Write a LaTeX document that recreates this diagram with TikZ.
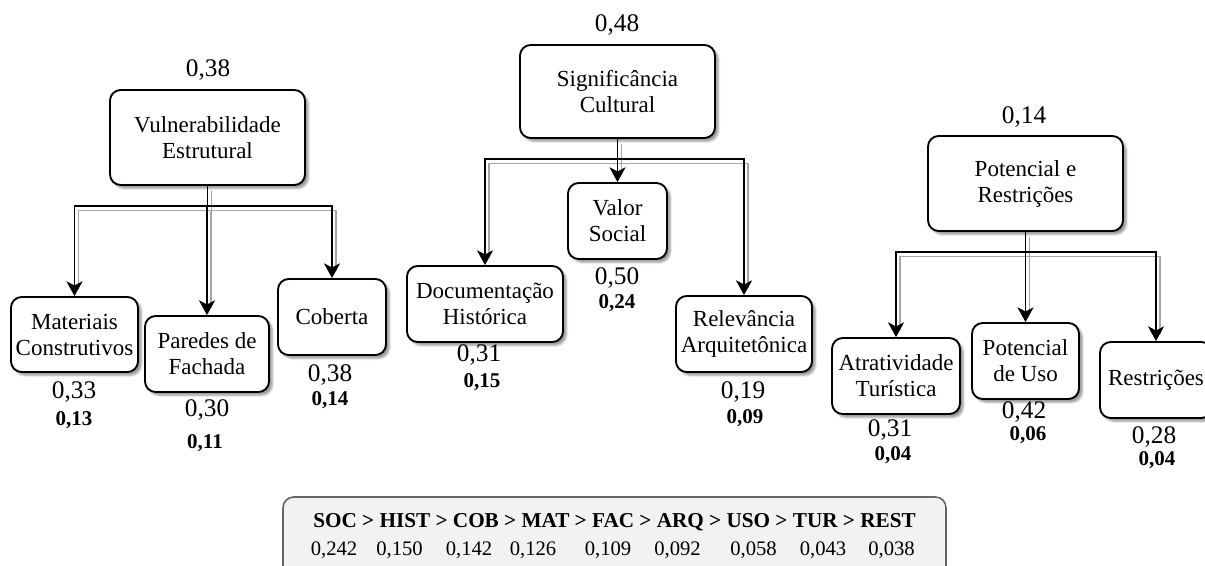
\documentclass[tikz,border=0pt]{standalone}
\usepackage{fontspec}
\setmainfont{Liberation Serif}
\usetikzlibrary{arrows.meta,shadows.blur,backgrounds}

\begin{document}
\begin{tikzpicture}[x=0.75pt,y=-0.75pt,
  box/.style={draw, line width=1.4pt, rounded corners=8pt, fill=white, align=center,
    font=\fontsize{17.25}{19.5}\selectfont, inner sep=0pt,
    blur shadow={shadow xshift=2.5pt, shadow yshift=-2.5pt, shadow blur radius=1.5pt, shadow opacity=40}},
  wt/.style={font=\fontsize{19}{22}\selectfont, inner sep=0pt},
  gw/.style={font=\bfseries\fontsize{15.75}{18}\selectfont, inner sep=0pt},
  link/.style={line width=1.3pt, -{Stealth[length=11pt,width=12pt,inset=3pt]}},
  linkshadow/.style={line width=1.3pt, black!35, transform canvas={shift={(3pt,-3.5pt)}}, shorten >=9pt},
  sumbox/.style={draw=black!60, fill=black!5, line width=1.2pt, rounded corners=8pt, inner sep=0pt},
  order/.style={font=\bfseries\fontsize{15.9}{18}\selectfont, inner sep=0pt},
  score/.style={font=\fontsize{15.5}{18}\selectfont, inner sep=0pt}
]
\useasboundingbox (0,0) rectangle (1205,565);

% Criterion: structural vulnerability
\node[box, minimum width=146.25pt, minimum height=71.25pt] (V) at (207.5,137.5) {Vulnerabilidade\\Estrutural};
\node[box, minimum width=95.25pt, minimum height=56.25pt] (M) at (74.5,334.5) {Materiais\\Construtivos};
\node[box, minimum width=93pt, minimum height=57pt] (P) at (207,354) {Paredes de\\Fachada};
\node[box, minimum width=81pt, minimum height=57pt] (C) at (332,317) {Coberta};

% Criterion: cultural significance
\node[box, minimum width=146.25pt, minimum height=69.75pt] (S) at (617.5,91.5) {Significância\\Cultural};
\node[box, minimum width=117pt, minimum height=57pt] (D) at (485,304) {Documentação\\Histórica};
\node[box, minimum width=74.25pt, minimum height=57pt] (VS) at (617.5,221) {Valor\\Social};
\node[box, minimum width=102pt, minimum height=57pt] (R) at (744,334) {Relevância\\Arquitetônica};

% Criterion: potential and restrictions
\node[box, minimum width=146.25pt, minimum height=71.25pt] (PR) at (1025.5,183.5) {Potencial e\\Restrições};
\node[box, minimum width=96pt, minimum height=57pt] (A) at (896,376) {Atratividade\\Turística};
\node[box, minimum width=80.25pt, minimum height=57pt] (PU) at (1025.5,361) {Potencial\\de Uso};
\node[box, minimum width=84pt, minimum height=57pt] (RE) at (1156,380) {Restrições};

% Connectors with their offset shadows
\begin{scope}[on background layer]
\foreach \p/\c in {V/M,V/P,V/C,S/D,S/VS,S/R,PR/A,PR/PU,PR/RE}{
  \draw[linkshadow] (\p.south) -- ++(0,20) -| (\c.north);
}
\end{scope}
\foreach \p/\c in {V/M,V/P,V/C,S/D,S/VS,S/R,PR/A,PR/PU,PR/RE}{
  \draw[link] (\p.south) -- ++(0,20) -| (\c.north);
}

% Local weights (regular) and global weights (bold)
\node[wt] (wV) at (208,70) {0,38};
\node[wt] (wM) at (74,392) {0,33};
\node[gw] (gM) at (74,420) {0,13};
\node[wt] (wP) at (207,410) {0,30};
\node[gw] (gP) at (205,443) {0,11};
\node[wt] (wC) at (330,375) {0,38};
\node[gw] (gC) at (330,400) {0,14};

\node[wt] (wS) at (617,25) {0,48};
\node[wt] (wD) at (479,355) {0,31};
\node[gw] (gD) at (482,382) {0,15};
\node[wt] (wVS) at (617,278) {0,50};
\node[gw] (gVS) at (617,303) {0,24};
\node[wt] (wR) at (743,392) {0,19};
\node[gw] (gR) at (745,418) {0,09};

\node[wt] (wPR) at (1024,117) {0,14};
\node[wt] (wA) at (890,430) {0,31};
\node[gw] (gA) at (893,455) {0,04};
\node[wt] (wPU) at (1024,412) {0,42};
\node[gw] (gPU) at (1028,435) {0,06};
\node[wt] (wRE) at (1154,437) {0,28};
\node[gw] (gRE) at (1157,460) {0,04};

% Final ranking
\node[sumbox, minimum width=497.25pt, minimum height=82.5pt] (sb) at (614.5,552) {};
\node[order] (rank) at (614.5,522) {SOC > HIST > COB > MAT > FAC > ARQ > USO > TUR > REST};
\node[score] (n1) at (334,550) {0,242};
\node[score] (n2) at (399.5,550) {0,150};
\node[score] (n3) at (469,550) {0,142};
\node[score] (n4) at (533,550) {0,126};
\node[score] (n5) at (608,550) {0,109};
\node[score] (n6) at (677.5,550) {0,092};
\node[score] (n7) at (753.5,550) {0,058};
\node[score] (n8) at (823,550) {0,043};
\node[score] (n9) at (891.5,550) {0,038};
\end{tikzpicture}
\end{document}
